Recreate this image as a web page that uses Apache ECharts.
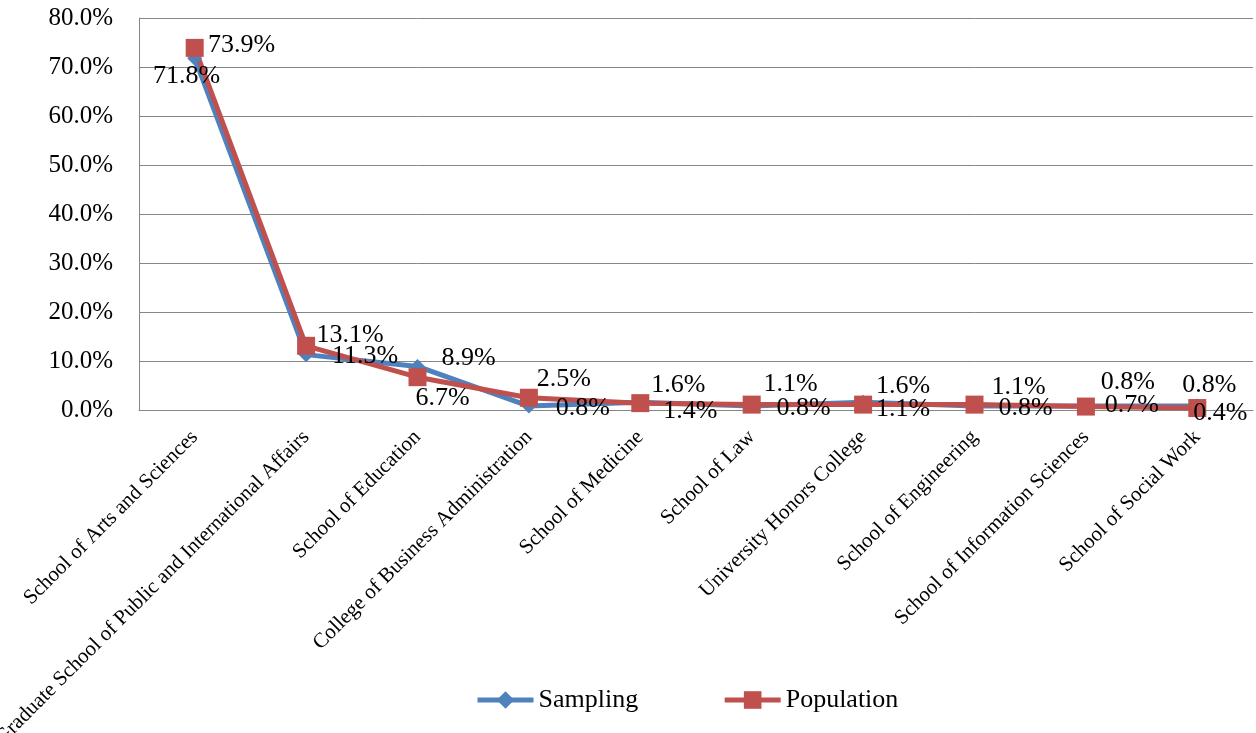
<!DOCTYPE html>
<html>
<head>
<meta charset="utf-8">
<script src="https://cdn.jsdelivr.net/npm/echarts@6/dist/echarts.min.js"></script>
<style>
  html, body { margin: 0; padding: 0; background: #fff; }
  #chart { width: 1256px; height: 733px; }
</style>
</head>
<body>
<div id="chart"></div>
<script>
// Share of each school, in percent
const schools = [
  'School of Arts and Sciences',
  'Graduate School of Public and International Affairs',
  'School of Education',
  'College of Business Administration',
  'School of Medicine',
  'School of Law',
  'University Honors College',
  'School of Engineering',
  'School of Information Sciences',
  'School of Social Work'
];
const sampling   = [71.8, 11.3, 8.9, 0.8, 1.6, 0.8, 1.6, 0.8, 0.8, 0.8];
const population = [73.9, 13.1, 6.7, 2.5, 1.4, 1.1, 1.1, 1.1, 0.7, 0.4];
const yTicks = { min: 0, max: 80, step: 10 };

// Where each value label sits relative to its marker (pixels)
const samplingLabelShift   = [[-8, 18], [59, 2], [51, -8], [54, 2], [38, -17], [52, 2], [40, -16], [51, 2], [42, -24], [12, -21]];
const populationLabelShift = [[47, -3], [44, -11], [25, 21], [35, -19], [50, 8], [39, -20], [40, 5], [44, -17], [46, -1], [23, 5]];

const FONT = 'Liberation Serif';

function withLabels(values, shifts) {
  return values.map((v, i) => ({
    value: v,
    label: {
      show: true,
      position: 'inside',
      offset: shifts[i],
      formatter: v.toFixed(1) + '%'
    }
  }));
}

const labelStyle = {
  color: '#000',
  fontFamily: FONT,
  fontSize: 26,
  align: 'center',
  verticalAlign: 'middle'
};

const chart = echarts.init(document.getElementById('chart'), null, { renderer: 'canvas' });
chart.setOption({
  animation: false,
  backgroundColor: '#fff',
  grid: {
    left: 139, right: 3, top: 18, bottom: 323,
    containLabel: false,
    outerBoundsMode: 'none'
  },
  legend: {
    top: 682,
    left: 470,
    itemWidth: 56,
    itemHeight: 22,
    itemGap: 84,
    lineStyle: { width: 5 },
    textStyle: { fontFamily: FONT, fontSize: 26, color: '#000' },
    data: ['Sampling', 'Population']
  },
  xAxis: {
    type: 'category',
    data: schools,
    boundaryGap: true,
    axisLine: { show: true, lineStyle: { color: '#868686', width: 1 } },
    axisTick: { show: false },
    axisLabel: {
      interval: 0,
      rotate: 45,
      margin: 24,
      fontFamily: FONT,
      fontSize: 21,
      color: '#000'
    }
  },
  yAxis: {
    type: 'value',
    min: yTicks.min,
    max: yTicks.max,
    interval: yTicks.step,
    axisLine: { show: true, lineStyle: { color: '#868686', width: 1 } },
    axisTick: { show: false },
    splitLine: { lineStyle: { color: '#868686', width: 1 } },
    axisLabel: {
      margin: 26,
      fontFamily: FONT,
      fontSize: 25,
      color: '#000',
      formatter: v => v.toFixed(1) + '%'
    }
  },
  series: [
    {
      name: 'Sampling',
      type: 'line',
      data: withLabels(sampling, samplingLabelShift),
      symbol: 'diamond',
      symbolSize: 15,
      lineStyle: { color: '#4F81BD', width: 5 },
      itemStyle: { color: '#4F81BD' },
      label: labelStyle
    },
    {
      name: 'Population',
      type: 'line',
      data: withLabels(population, populationLabelShift),
      symbol: 'rect',
      symbolSize: 18,
      lineStyle: { color: '#C0504D', width: 5 },
      itemStyle: { color: '#C0504D' },
      label: labelStyle
    }
  ]
});
</script>
</body>
</html>
